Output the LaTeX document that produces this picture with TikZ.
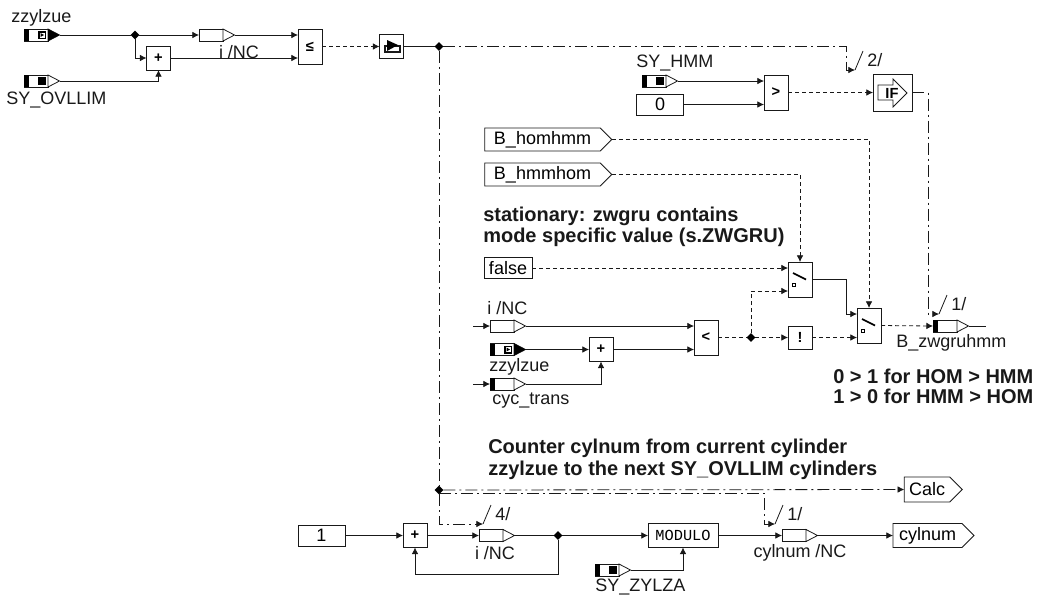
\documentclass[tikz,border=0pt]{standalone}
\usepackage{fontspec}
\setmainfont{Liberation Sans}
\setmonofont{Liberation Mono}
\usepackage{xcolor}
\usetikzlibrary{arrows.meta, positioning, shapes.geometric, shapes.symbols}
\definecolor{sigInk}{RGB}{25,25,25}
\newcommand{\lblfont}{\fontsize{13.5}{16}\selectfont}
\newcommand{\notefont}{\fontsize{15}{18}\selectfont\bfseries}

\newcommand{\msgpin}[3]{%
  \node[pinbody] (#1) at (#2+12,#3) {};
  \draw[sigInk, line width=0.6pt, fill=white] (#1.north east) -- ++(11.5,6) coordinate (#1T) -- (#1.south east) -- cycle;
}
\newcommand{\pinstrip}[1]{\fill[black] (#1.north west) rectangle ([xshift=3.75pt]#1.south west);}
\newcommand{\sypin}[3]{%
  \msgpin{#1}{#2}{#3}
  \pinstrip{#1}
  \fill[black] ([shift={(14,-4)}]#1.west) rectangle ([shift={(22,4)}]#1.west);
}
\newcommand{\zzpin}[3]{%
  \sypin{#1}{#2}{#3}
  \fill[white] ([shift={(15.5,-2.5)}]#1.west) rectangle ([shift={(20.5,2.5)}]#1.west);
  \fill[black] ([shift={(16.5,-2)}]#1.west) -- ([shift={(20,0)}]#1.west) -- ([shift={(16.5,2)}]#1.west) -- cycle;
  \fill[black] (#1.north east) -- (#1T) -- (#1.south east) -- cycle;
}
\newcommand{\muxsym}[1]{%
  \draw[line width=1.3pt] ([shift={(-7,-6.5)}]#1.center) -- ([shift={(6,0)}]#1.center);
  \draw[line width=0.5pt] ([shift={(-7.5,3.5)}]#1.center) rectangle ([shift={(-4.5,6.5)}]#1.center);
}
\newcommand{\enablemark}[4]{%
  \coordinate (#1) at (#2,#3);
  \draw[wire] (#1) -- +(8,-19);
  \node[lbl, anchor=west] (#1Lbl) at (#2+12,#3-10) {#4};
}

\begin{document}
\begin{tikzpicture}[
  x=0.75pt, y=-0.75pt,
  wire/.style={line width=0.6pt, color=sigInk},
  flow/.style={wire, -{Latex[length=5pt,width=5pt]}},
  booldash/.style={dash pattern=on 3pt off 2.25pt},
  dashdot/.style={dash pattern=on 9pt off 3pt on 1.5pt off 3pt},
  lbl/.style={inner sep=0pt, font=\lblfont, color=sigInk},
  note/.style={inner sep=0pt, anchor=base west, font=\notefont, color=sigInk},
  pinbody/.style={draw=sigInk, line width=0.6pt, fill=white, minimum width=18pt, minimum height=9pt, inner sep=0pt, outer sep=0pt},
  opbox/.style={draw=sigInk, line width=0.7pt, fill=white, minimum width=18pt, minimum height=26.25pt, inner sep=0pt, outer sep=0pt,
                font=\fontsize{11}{12}\selectfont\bfseries},
  plusbox/.style={opbox, minimum height=18pt},
  constbox/.style={draw=sigInk, line width=0.6pt, minimum width=35.25pt, minimum height=15.75pt, inner sep=0pt, outer sep=0pt, font=\lblfont},
  tag/.style={draw=sigInk, line width=0.6pt, shape=signal, signal to=east, signal pointer angle=90,
              minimum height=17.25pt, inner sep=0pt, outer sep=0pt, font=\lblfont},
  junc/.style={diamond, fill=black, minimum size=6.5pt, inner sep=0pt, outer sep=0pt},
]
  \useasboundingbox (0,0) rectangle (1038,597);

  \zzpin{zzA}{24}{35}
  \sypin{syA}{24}{81}
  \msgpin{iA}{199}{35}
  \node[junc] (jA) at (135,35) {};
  \node[plusbox] (plusA) at (158.5,58) {+};
  \node[opbox] (cmpA) at (310,46.5) {≤};
  \node[plusbox] (playA) at (391.5,46.5) {};
  \draw[sigInk, line width=0.8pt] ([shift={(-6.5,-0.5)}]playA.center) rectangle ([shift={(8.5,5.5)}]playA.center);
  \fill[black] ([shift={(-4.5,-6.5)}]playA.center) -- ([shift={(6.5,-1.5)}]playA.center) -- ([shift={(-4.5,4.5)}]playA.center) -- cycle;
  \node[junc] (jB) at (439,46.5) {};
  \node[junc] (jC) at (439,490) {};
  \node[lbl, anchor=west] (zzALbl) at (11,18) {zzylzue};
  \node[lbl, anchor=west] (syALbl) at (6,100) {SY\_OVLLIM};
  \node[lbl] (iALbl) at (239,52) {i /NC};

  \draw[wire] (zzAT) -- (jA);
  \draw[flow] (jA) -- (iA.west);
  \draw[flow] (iAT) -- (iAT -| cmpA.west);
  \draw[flow] (jA) |- (plusA.west);
  \draw[flow] (syAT) -| (plusA.south);
  \draw[flow] (plusA.east) -- (plusA.east -| cmpA.west);
  \draw[flow, booldash] (cmpA.east) -- (playA.west);
  \draw[wire] (playA.east) -- (jB);

  \sypin{hmmA}{642}{81}
  \node[constbox] (zeroA) at (660,104.5) {0};
  \node[opbox] (gtA) at (776,92.5) {>};
  \node[draw=sigInk, line width=0.7pt, minimum width=29.25pt, minimum height=27.75pt, inner sep=0pt, outer sep=0pt] (ifA) at (892.5,92.5) {};
  \draw[sigInk, line width=0.6pt] ([shift={(-14.5,-7.5)}]ifA.center) -- ([shift={(0.5,-7.5)}]ifA.center) -- ([shift={(0.5,-13.5)}]ifA.center)
    -- ([shift={(14.5,0.5)}]ifA.center) -- ([shift={(0.5,14.5)}]ifA.center) -- ([shift={(0.5,7.5)}]ifA.center) -- ([shift={(-14.5,7.5)}]ifA.center) -- cycle;
  \node[inner sep=0pt, font=\fontsize{11}{12}\selectfont\bfseries] (ifTxt) at (892,93) {IF};
  \node[lbl, anchor=west] (hmmLbl) at (636,63) {SY\_HMM};
  \enablemark{tickA}{855}{70}{2/}
  \coordinate (bendA) at (846,70);
  \draw[flow, dashdot] (jB) -| (bendA) -- (tickA);
  \draw[wire, dashdot] (jB) -- (jC);

  \draw[flow] (hmmAT) -- (hmmAT -| gtA.west);
  \draw[flow] (zeroA.east) -- (zeroA.east -| gtA.west);
  \draw[flow, booldash] (gtA.east) -- (ifA.west);

  \node[tag, minimum width=95.25pt] (homTag) at (542.5,139.5) {B\_homhmm};
  \node[tag, minimum width=95.25pt] (hmmTag) at (542.5,174.5) {B\_hmmhom};
  \node[note] (noteA) at (483,221) {stationary: zwgru contains};
  \node[note] (noteB) at (483,242) {mode specific value (s.ZWGRU)};
  \node[constbox, minimum width=36pt] (falseBox) at (508,268) {false};

  \node[opbox] (muxA) at (800,279.5) {};
  \node[opbox] (muxB) at (869,325.5) {};
  \muxsym{muxA}
  \muxsym{muxB}
  \node[opbox] (ltA) at (706,337.5) {<};
  \node[opbox, minimum height=17.25pt] (notA) at (800,337.5) {!};
  \node[junc] (jD) at (751,337.5) {};
  \node[plusbox] (plusB) at (601,349.5) {+};
  \msgpin{iB}{490}{326}
  \zzpin{zzB}{490}{349.5}
  \msgpin{cycB}{490}{384}
  \pinstrip{cycB}
  \msgpin{zwgA}{933}{326}
  \pinstrip{zwgA}
  \coordinate (inI) at (473,326);
  \coordinate (inC) at (473,384);
  \coordinate (endZ) at (986,326);
  \coordinate (bendE) at (928,314);
  \coordinate (bendF) at (846,314);
  \enablemark{tickE}{939}{314}{1/}
  \node[lbl, anchor=west] (iBLbl) at (487,308) {i /NC};
  \node[lbl, anchor=west] (zzBLbl) at (489,367) {zzylzue};
  \node[lbl, anchor=west] (cycLbl) at (492,401) {cyc\_trans};
  \node[lbl, anchor=west] (zwgLbl) at (896,343) {B\_zwgruhmm};
  \node[note] (noteC) at (833,383) {0 > 1 for HOM > HMM};
  \node[note] (noteD) at (833,403) {1 > 0 for HMM > HOM};

  \draw[flow, booldash] (homTag.east) -| (muxB.north);
  \draw[flow, booldash] (hmmTag.east) -| (muxA.north);
  \draw[flow, booldash] (falseBox.east) -- (falseBox.east -| muxA.west);
  \draw[flow] (inI) -- (iB.west);
  \draw[flow] (iBT) -- (iBT -| ltA.west);
  \draw[flow] (zzBT) -- (plusB.west);
  \draw[flow] (plusB.east) -- (plusB.east -| ltA.west);
  \draw[flow] (inC) -- (cycB.west);
  \draw[flow] (cycBT) -| (plusB.south);
  \draw[wire, booldash] (ltA.east) -- (jD);
  \draw[flow, booldash] (jD) -- (notA.west);
  \draw[flow, booldash] (jD) |- ([yshift=-8.625pt]muxA.west);
  \draw[flow, booldash] (notA.east) -- (notA.east -| muxB.west);
  \draw[flow] (muxA.east) -| (bendF) -- (bendF -| muxB.west);
  \draw[flow, booldash] (muxB.east) -- (zwgA.west);
  \draw[wire] (zwgAT) -- (endZ);
  \draw[flow, dashdot] (ifA.east) -| (bendE) -- (tickE);

  \node[note] (noteE) at (488,453) {Counter cylnum from current cylinder};
  \node[note] (noteF) at (488,475) {zzylzue to the next SY\_OVLLIM cylinders};
  \node[tag, minimum width=43.5pt, minimum height=18.75pt] (calcTag) at (927,489.5) {Calc};
  \node[constbox] (oneBox) at (321.5,535.5) {1};
  \node[plusbox] (plusC) at (415,535.5) {+};
  \msgpin{iC}{479}{535.5}
  \node[junc] (jE) at (558,535.5) {};
  \node[constbox, minimum width=52.5pt, minimum height=18pt, font=\fontsize{11.5}{12}\selectfont\ttfamily] (modA) at (683,535.5) {MODULO};
  \msgpin{cylP}{782}{535.5}
  \node[tag, minimum width=60.75pt, minimum height=18pt] (cylTag) at (927.5,535.5) {cylnum};
  \sypin{syZ}{595}{570}
  \node[lbl] (iCLbl) at (495,553) {i /NC};
  \node[lbl] (cylLbl) at (800,553) {cylnum /NC};
  \node[lbl, anchor=west] (syZLbl) at (595,587) {SY\_ZYLZA};
  \enablemark{tickC}{483}{524}{4/}
  \enablemark{tickD}{775}{524}{1/}
  \coordinate (bendD) at (764,524);

  \draw[flow, dashdot] (jC) |- (tickC);
  \draw[flow, dashdot] (jC) -- (calcTag.west);
  \draw[flow, dashdot] ([yshift=-2.25pt]jC.center) -| (bendD) -- (tickD);
  \draw[flow] (oneBox.east) -- (plusC.west);
  \draw[flow] (plusC.east) -- (iC.west);
  \draw[wire] (iCT) -- (jE);
  \draw[flow] (jE) -- (modA.west);
  \draw[flow] (jE) -- ++(0,38.5) -| (plusC.south);
  \draw[flow] (modA.east) -- (cylP.west);
  \draw[flow] (cylPT) -- (cylTag.west);
  \draw[flow] (syZT) -| (modA.south);
\end{tikzpicture}
\end{document}
